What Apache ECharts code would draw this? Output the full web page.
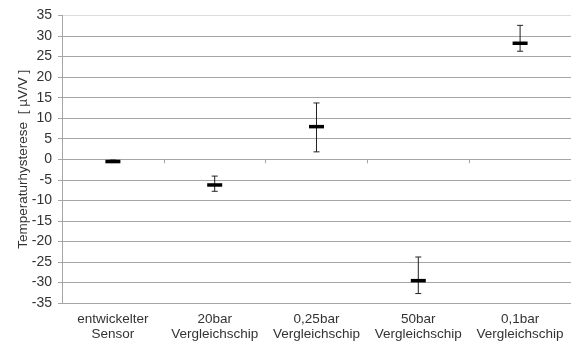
<!DOCTYPE html>
<html>
<head>
<meta charset="utf-8">
<script src="https://cdn.jsdelivr.net/npm/echarts@6/dist/echarts.min.js"></script>
<style>
    html, body { margin: 0; padding: 0; background: #fff; }
    #chart { width: 571px; height: 342px; }
</style>
</head>
<body>
<div id="chart"></div>
<script>
    var categories = ['entwickelter\nSensor', '20bar\nVergleichschip', '0,25bar\nVergleichschip', '50bar\nVergleichschip', '0,1bar\nVergleichschip'];
    var meanValues = [-0.5, -6.2, 8.0, -29.5, 28.3];
    var upperValues = [-0.2, -4.1, 13.7, -23.8, 32.6];
    var lowerValues = [-0.8, -7.8, 1.8, -32.7, 26.3];
    var yTicks = [-35, -30, -25, -20, -15, -10, -5, 0, 5, 10, 15, 20, 25, 30, 35];

    var gridColors = yTicks.map(function (t) { return t === 35 ? '#dcdcdc' : '#a6a6a6'; });

    var errData = categories.map(function (c, i) {
        return [i, meanValues[i], lowerValues[i], upperValues[i]];
    });

    var myChart = echarts.init(document.getElementById('chart'));
    var option = {
        animation: false,
        textStyle: { fontFamily: 'Liberation Sans, Arial, sans-serif' },
        grid: { left: 62, top: 15.5, width: 511, height: 288.5 },
        xAxis: {
            type: 'category',
            data: categories,
            boundaryGap: true,
            axisLine: { lineStyle: { color: '#a6a6a6' } },
            axisTick: { show: true, length: 4, interval: 0, lineStyle: { color: '#a6a6a6' } },
            axisLabel: { interval: 0, color: '#333', fontSize: 13.5, lineHeight: 15, margin: 9 }
        },
        yAxis: {
            type: 'value',
            min: yTicks[0],
            max: yTicks[yTicks.length - 1],
            interval: 5,
            name: 'Temperaturhysterese  [ µV/V ]',
            nameLocation: 'middle',
            nameGap: 32,
            nameMoveOverlap: false,
            nameTextStyle: { color: '#333', fontSize: 13.5 },
            axisLine: { show: true, lineStyle: { color: '#a6a6a6' } },
            axisTick: { show: true, length: 4, lineStyle: { color: '#a6a6a6' } },
            axisLabel: { color: '#333', fontSize: 14, margin: 10 },
            splitLine: { lineStyle: { color: gridColors, width: 1 } }
        },
        series: [
            {
                type: 'custom',
                data: errData,
                encode: { x: 0, y: [1, 2, 3] },
                renderItem: function (params, api) {
                    var x = api.value(0);
                    var mid = api.coord([x, api.value(1)]);
                    var lo = api.coord([x, api.value(2)]);
                    var hi = api.coord([x, api.value(3)]);
                    var cap = 3;
                    var half = 7.5;
                    return {
                        type: 'group',
                        children: [
                            { type: 'line', shape: { x1: hi[0], y1: hi[1], x2: lo[0], y2: lo[1] }, style: { stroke: '#222', lineWidth: 1 } },
                            { type: 'line', shape: { x1: hi[0] - cap, y1: hi[1], x2: hi[0] + cap, y2: hi[1] }, style: { stroke: '#222', lineWidth: 1 } },
                            { type: 'line', shape: { x1: lo[0] - cap, y1: lo[1], x2: lo[0] + cap, y2: lo[1] }, style: { stroke: '#222', lineWidth: 1 } },
                            { type: 'rect', shape: { x: mid[0] - half, y: mid[1] - 1.5, width: half * 2, height: 3.5 }, style: { fill: '#000' } }
                        ]
                    };
                }
            }
        ]
    };
    myChart.setOption(option);
</script>
</body>
</html>
